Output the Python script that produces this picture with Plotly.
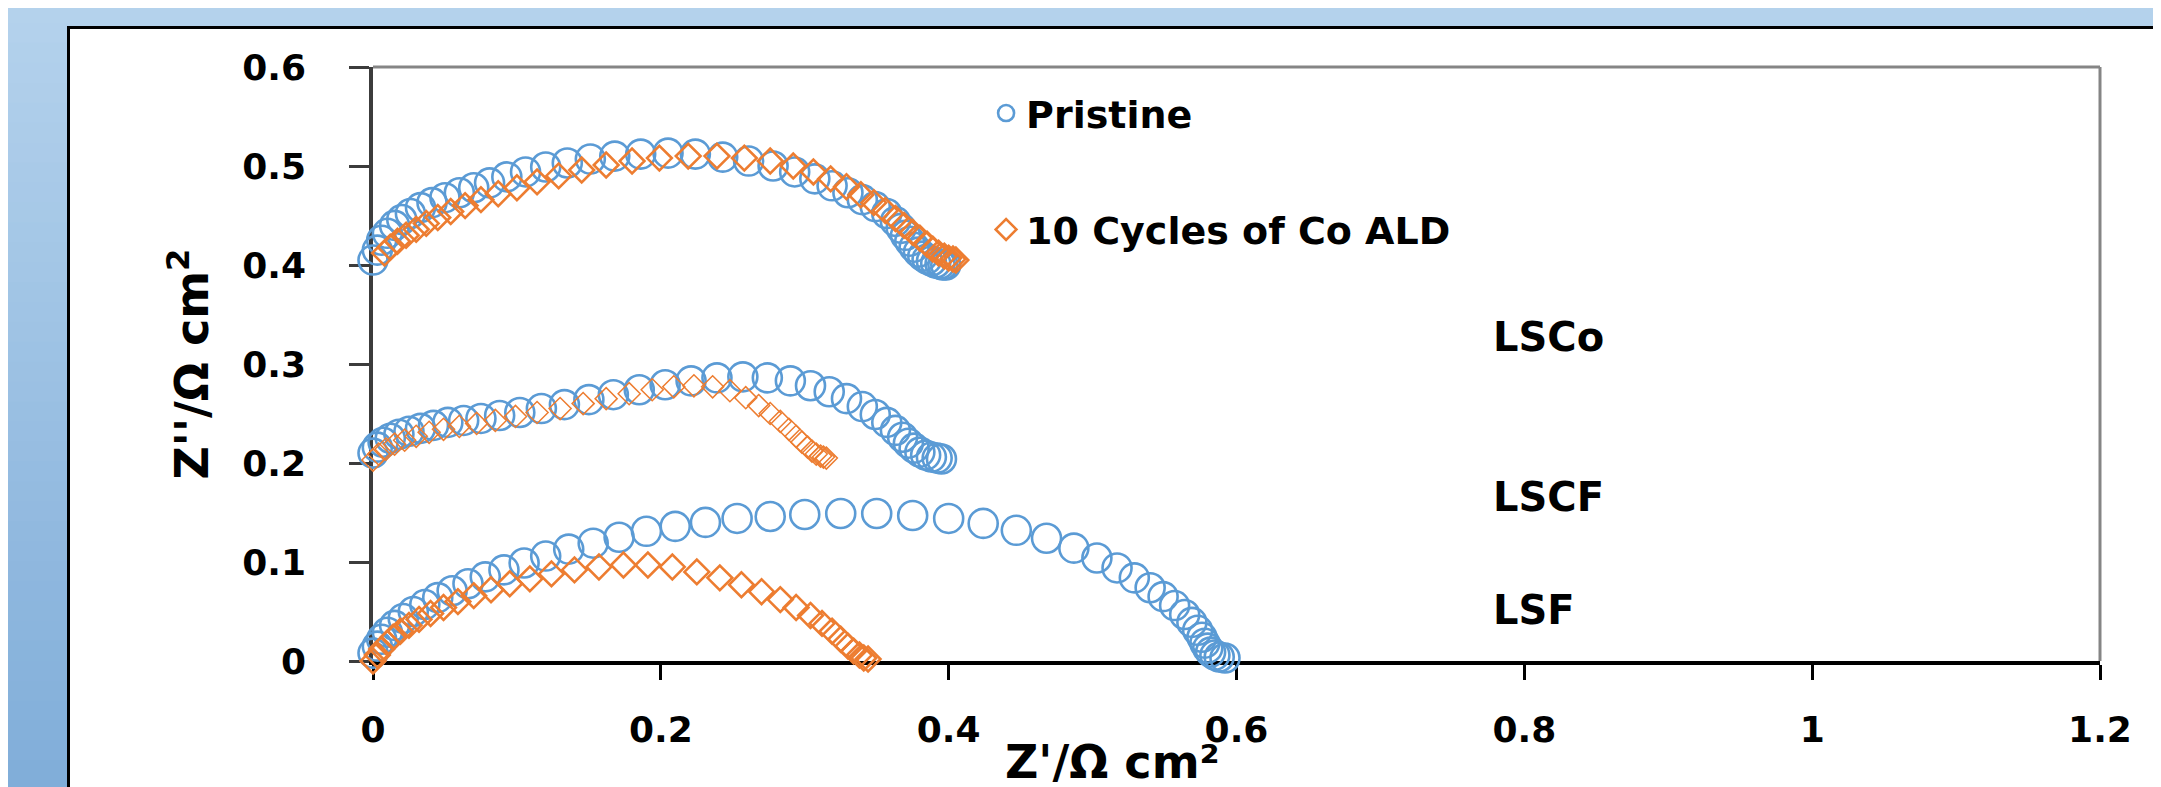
import plotly.graph_objects as go

# ---------------- data ----------------
lsco_pristine_x = [0.000, 0.003, 0.006, 0.010, 0.015, 0.020, 0.026, 0.033, 0.041, 0.050, 0.060, 0.070, 0.081,
                   0.093, 0.106, 0.120, 0.135, 0.151, 0.168, 0.186, 0.205, 0.224, 0.243, 0.261, 0.278, 0.293,
                   0.307, 0.319, 0.330, 0.340, 0.349, 0.357, 0.363, 0.367, 0.370, 0.373, 0.376, 0.379, 0.382,
                   0.385, 0.388, 0.391, 0.394, 0.396, 0.398]
lsco_pristine_y = [0.405, 0.415, 0.425, 0.432, 0.440, 0.446, 0.452, 0.458, 0.463, 0.468, 0.473, 0.478, 0.483,
                   0.489, 0.494, 0.499, 0.503, 0.507, 0.510, 0.512, 0.513, 0.512, 0.509, 0.505, 0.500, 0.494,
                   0.487, 0.480, 0.473, 0.466, 0.459, 0.452, 0.444, 0.437, 0.430, 0.424, 0.418, 0.413, 0.409,
                   0.406, 0.404, 0.402, 0.401, 0.400, 0.400]

lsco_ald_x = [0.008, 0.012, 0.017, 0.023, 0.030, 0.037, 0.045, 0.054, 0.064, 0.075, 0.087, 0.100, 0.114,
              0.129, 0.145, 0.162, 0.180, 0.199, 0.219, 0.239, 0.258, 0.276, 0.292, 0.306, 0.318, 0.329,
              0.339, 0.348, 0.356, 0.363, 0.369, 0.375, 0.380, 0.385, 0.389, 0.393, 0.397, 0.400, 0.403, 0.405]
lsco_ald_y = [0.412, 0.418, 0.424, 0.430, 0.436, 0.442, 0.448, 0.454, 0.460, 0.466, 0.472, 0.478, 0.484,
              0.490, 0.496, 0.501, 0.505, 0.508, 0.510, 0.510, 0.508, 0.505, 0.500, 0.494, 0.487, 0.479,
              0.471, 0.463, 0.455, 0.447, 0.440, 0.433, 0.427, 0.421, 0.416, 0.412, 0.409, 0.407, 0.406, 0.405]

lscf_pristine_x = [0.000, 0.003, 0.007, 0.012, 0.018, 0.025, 0.033, 0.042, 0.052, 0.063, 0.075, 0.088, 0.102,
                   0.117, 0.133, 0.150, 0.167, 0.185, 0.203, 0.221, 0.239, 0.257, 0.274, 0.290, 0.304, 0.317,
                   0.329, 0.340, 0.349, 0.357, 0.363, 0.368, 0.372, 0.376, 0.380, 0.384, 0.388, 0.392, 0.395]
lscf_pristine_y = [0.210, 0.216, 0.221, 0.225, 0.229, 0.232, 0.235, 0.238, 0.241, 0.243, 0.245, 0.248, 0.251,
                   0.255, 0.259, 0.264, 0.269, 0.274, 0.279, 0.283, 0.286, 0.287, 0.286, 0.283, 0.278, 0.272,
                   0.265, 0.257, 0.249, 0.241, 0.233, 0.226, 0.220, 0.215, 0.211, 0.208, 0.206, 0.205, 0.204]

lscf_ald_x = [0.000, 0.004, 0.009, 0.015, 0.022, 0.030, 0.039, 0.049, 0.060, 0.072, 0.085, 0.099, 0.114,
              0.130, 0.146, 0.162, 0.178, 0.194, 0.209, 0.223, 0.236, 0.248, 0.259, 0.268, 0.276, 0.283,
              0.289, 0.294, 0.298, 0.302, 0.305, 0.308, 0.311, 0.313, 0.315]
lscf_ald_y = [0.203, 0.209, 0.214, 0.219, 0.223, 0.227, 0.231, 0.234, 0.237, 0.240, 0.243, 0.247, 0.251,
              0.255, 0.260, 0.265, 0.270, 0.274, 0.277, 0.278, 0.277, 0.273, 0.266, 0.258, 0.250, 0.242,
              0.234, 0.227, 0.221, 0.216, 0.212, 0.209, 0.207, 0.206, 0.205]

lsf_pristine_x = [0.000, 0.003, 0.006, 0.010, 0.015, 0.021, 0.028, 0.036, 0.045, 0.055, 0.066, 0.078, 0.091,
                  0.105, 0.120, 0.136, 0.153, 0.171, 0.190, 0.210, 0.231, 0.253, 0.276, 0.300, 0.325, 0.350,
                  0.375, 0.400, 0.424, 0.447, 0.468, 0.487, 0.503, 0.517, 0.529, 0.540, 0.549, 0.557, 0.564,
                  0.569, 0.573, 0.576, 0.578, 0.580, 0.582, 0.585, 0.588, 0.592]
lsf_pristine_y = [0.008, 0.015, 0.022, 0.029, 0.036, 0.043, 0.050, 0.057, 0.064, 0.071, 0.078, 0.085, 0.092,
                  0.099, 0.106, 0.113, 0.119, 0.125, 0.131, 0.136, 0.140, 0.144, 0.146, 0.148, 0.149, 0.149,
                  0.147, 0.144, 0.139, 0.132, 0.124, 0.114, 0.104, 0.094, 0.084, 0.074, 0.065, 0.056, 0.047,
                  0.039, 0.031, 0.024, 0.018, 0.013, 0.009, 0.006, 0.004, 0.003]

lsf_ald_x = [0.000, 0.003, 0.006, 0.010, 0.014, 0.019, 0.025, 0.032, 0.040, 0.049, 0.059, 0.070, 0.082,
             0.095, 0.109, 0.124, 0.140, 0.157, 0.174, 0.191, 0.208, 0.225, 0.241, 0.256, 0.270, 0.283,
             0.294, 0.304, 0.312, 0.319, 0.325, 0.330, 0.334, 0.338, 0.341, 0.344]
lsf_ald_y = [0.000, 0.006, 0.012, 0.018, 0.024, 0.030, 0.036, 0.042, 0.048, 0.054, 0.060, 0.066, 0.072,
             0.078, 0.083, 0.088, 0.092, 0.095, 0.097, 0.097, 0.095, 0.090, 0.084, 0.077, 0.070, 0.062,
             0.054, 0.046, 0.038, 0.030, 0.022, 0.015, 0.010, 0.006, 0.003, 0.002]

sample_labels = ["LSCo", "LSCF", "LSF"]
sample_label_x = [0.777, 0.777, 0.777]
sample_label_y = [0.327, 0.166, 0.052]

legend_names = ["Pristine", "10 Cycles of Co ALD"]
x_title = "Z'/Ω cm²"
y_title = "Z''/Ω cm<sup>2</sup>"

# ---------------- figure ----------------
W, H = 2161, 787
ML, MR, MT, MB = 365, 69, 59, 134
PW, PH = W - ML - MR, H - MT - MB

def px2x(px):
    return (px - ML) / PW

def py2y(py):
    return (H - MB - py) / PH

BLUE = "#5B9BD5"
ORANGE = "#ED7D31"
FONT = "DejaVu Sans"

fig = go.Figure()

def add(x, y, name, color, symbol, size, lw, group, show):
    fig.add_trace(go.Scatter(
        x=x, y=y, mode="markers", name=name, legendgroup=group, showlegend=show,
        marker=dict(symbol=symbol, size=size, color=color, line=dict(color=color, width=lw)),
        cliponaxis=False, hoverinfo="x+y"))

add(lsco_pristine_x, lsco_pristine_y, legend_names[0], BLUE, "circle-open", 29, 2.6, "p", True)
add(lscf_pristine_x, lscf_pristine_y, legend_names[0], BLUE, "circle-open", 29, 2.6, "p", False)
add(lsf_pristine_x, lsf_pristine_y, legend_names[0], BLUE, "circle-open", 29, 2.6, "p", False)
add(lsco_ald_x, lsco_ald_y, legend_names[1], ORANGE, "diamond-open", 19, 2.6, "a", True)
add(lscf_ald_x, lscf_ald_y, legend_names[1], ORANGE, "diamond-open", 17, 1.5, "a", False)
add(lsf_ald_x, lsf_ald_y, legend_names[1], ORANGE, "diamond-open", 19, 2.6, "a", False)

shapes = []
# top band
shapes.append(dict(type="rect", xref="paper", yref="paper", x0=px2x(-5), x1=px2x(W + 5),
                   y0=py2y(19), y1=py2y(-5), fillcolor="#b4d2ec", line=dict(width=0), layer="below"))
# left gradient band
n = 40
c0 = (0xb4, 0xd2, 0xec)
c1 = (0x80, 0xad, 0xd9)
for i in range(n):
    t = i / (n - 1)
    c = tuple(int(round(c0[k] + (c1[k] - c0[k]) * t)) for k in range(3))
    ya = -5 + i * (H + 10) / n
    yb = -5 + (i + 1) * (H + 10) / n + 1
    shapes.append(dict(type="rect", xref="paper", yref="paper", x0=px2x(-5), x1=px2x(60),
                       y0=py2y(yb), y1=py2y(ya), fillcolor="rgb(%d,%d,%d)" % c,
                       line=dict(width=0), layer="below"))
# bottom grey edge
shapes.append(dict(type="rect", xref="paper", yref="paper", x0=px2x(60), x1=px2x(W + 5),
                   y0=py2y(H + 5), y1=py2y(785), fillcolor="#e8e8e8", line=dict(width=0), layer="below"))
# black frame lines
shapes.append(dict(type="line", xref="paper", yref="paper", x0=px2x(60), x1=px2x(W + 5),
                   y0=py2y(19.5), y1=py2y(19.5), line=dict(color="black", width=3)))
shapes.append(dict(type="line", xref="paper", yref="paper", x0=px2x(60.5), x1=px2x(60.5),
                   y0=py2y(18), y1=py2y(H + 5), line=dict(color="black", width=3)))
# grey plot border top and right
shapes.append(dict(type="line", xref="x domain", yref="y domain", x0=0, x1=1, y0=1, y1=1,
                   line=dict(color="#858585", width=3), layer="below"))
shapes.append(dict(type="line", xref="x domain", yref="y domain", x0=1, x1=1, y0=0, y1=1,
                   line=dict(color="#858585", width=3), layer="below"))

annotations = []
for lab, ax, ay in zip(sample_labels, sample_label_x, sample_label_y):
    annotations.append(dict(x=ax, y=ay, xref="x", yref="y", text=lab, showarrow=False,
                            xanchor="left", yanchor="middle",
                            font=dict(family=FONT, size=40, color="black", weight="bold")))
# x-axis title (offset left of centre as in the reference)
annotations.append(dict(x=px2x(1104), y=py2y(754), xref="paper", yref="paper", text=x_title,
                        showarrow=False, xanchor="center", yanchor="middle",
                        font=dict(family=FONT, size=46, color="black", weight="bold")))

tickfont = dict(family=FONT, size=36, color="black", weight="bold")

fig.update_layout(
    width=W, height=H, autosize=False,
    margin=dict(l=ML, r=MR, t=MT, b=MB, pad=0, autoexpand=False),
    paper_bgcolor="white", plot_bgcolor="white",
    shapes=shapes, annotations=annotations,
    showlegend=True,
    legend=dict(x=0.355, y=0.975, xanchor="left", yanchor="top", bgcolor="rgba(0,0,0,0)",
                font=dict(family=FONT, size=38, color="black", weight="bold"),
                tracegroupgap=64, traceorder="grouped", itemsizing="trace"),
    xaxis=dict(range=[0, 1.2], dtick=0.2, tick0=0, showgrid=False, zeroline=False,
               showline=True, linecolor="black", linewidth=3.5, automargin=False,
               ticks="outside", ticklen=15, tickwidth=3, tickcolor="black",
               tickfont=tickfont, ticklabelstandoff=19,
               layer="below traces"),
    yaxis=dict(range=[0, 0.6], dtick=0.1, tick0=0, showgrid=False, zeroline=False,
               showline=True, linecolor="#3c3c3c", linewidth=3.5, automargin=False,
               ticks="outside", ticklen=20, tickwidth=3, tickcolor="#3c3c3c",
               tickfont=tickfont, ticklabelstandoff=36,
               title=dict(text=y_title,
                          font=dict(family=FONT, size=46, color="black", weight="bold"), standoff=20),
               layer="below traces"),
    xaxis2=dict(range=[0, 1.2], overlaying="x", anchor="y", side="bottom", showgrid=False,
                zeroline=False, showline=False, showticklabels=False, dtick=0.04, tick0=0,
                automargin=False,
                ticks="inside", ticklen=12, tickwidth=3, tickcolor="black"),
    yaxis2=dict(range=[0, 0.6], overlaying="y", anchor="x", side="left", showgrid=False,
                zeroline=False, showline=False, showticklabels=False, dtick=0.05, tick0=0,
                automargin=False,
                ticks="inside", ticklen=14, tickwidth=3, tickcolor="#3c3c3c"),
)

fig.write_html("out.html")
